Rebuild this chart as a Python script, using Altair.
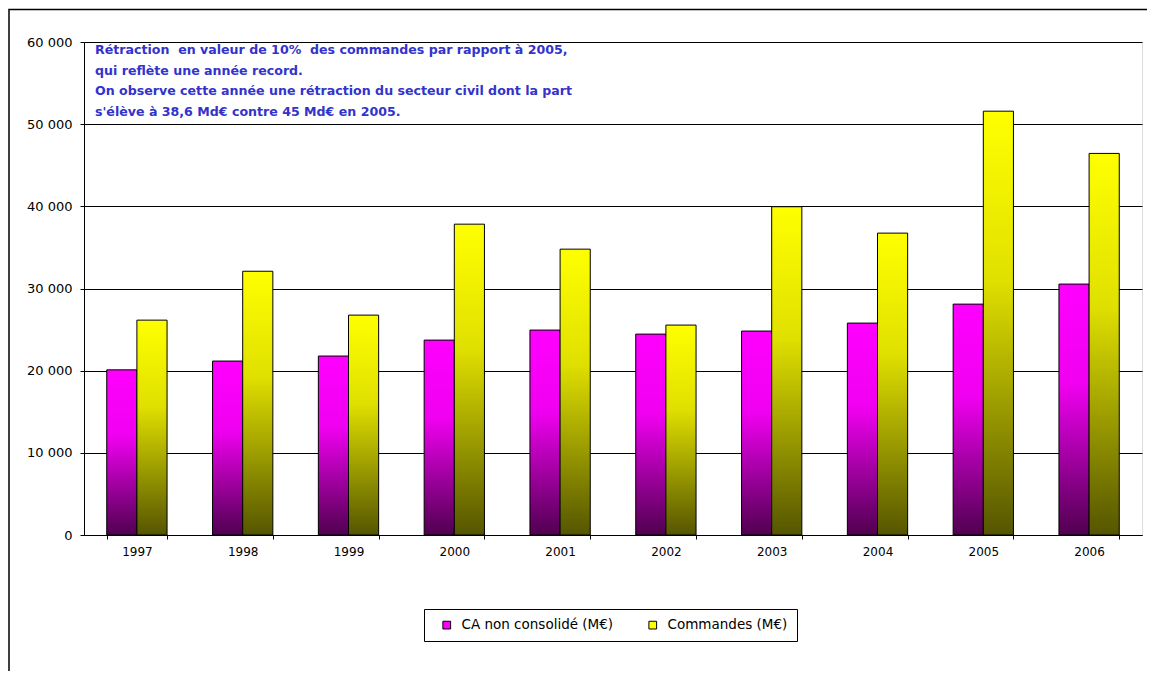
import altair as alt
import pandas as pd

years = ["1997", "1998", "1999", "2000", "2001", "2002", "2003", "2004", "2005", "2006"]
ca_values = [20100, 21170, 21780, 23720, 24940, 24450, 24820, 25790, 28100, 30540]
cmd_values = [26150, 32100, 26760, 37830, 34790, 25550, 39950, 36740, 51580, 46440]
series_names = ["CA non consolidé (M€)", "Commandes (M€)"]
y_ticks = [0, 10000, 20000, 30000, 40000, 50000, 60000]
note_lines = [
    "Rétraction \u00a0en valeur de 10% \u00a0des commandes par rapport à 2005,",
    "qui reflète une année record.",
    "On observe cette année une rétraction du secteur civil dont la part",
    "s'élève à 38,6 Md€ contre 45 Md€ en 2005.",
]

df = pd.DataFrame({
    "year": years * 2,
    "series": [series_names[0]] * len(years) + [series_names[1]] * len(years),
    "value": ca_values + cmd_values,
})

AXFONT = "DejaVu Sans"

grad_mag = {
    "gradient": "linear", "x1": 0, "y1": 0, "x2": 0, "y2": 1,
    "stops": [
        {"offset": 0, "color": "#FF00FF"},
        {"offset": 0.4, "color": "#F000F0"},
        {"offset": 1, "color": "#500050"},
    ],
}
grad_yel = {
    "gradient": "linear", "x1": 0, "y1": 0, "x2": 0, "y2": 1,
    "stops": [
        {"offset": 0, "color": "#FFFF00"},
        {"offset": 0.4, "color": "#E0E000"},
        {"offset": 1, "color": "#555500"},
    ],
}

x_enc = alt.X(
    "year:N",
    sort=years,
    scale=alt.Scale(paddingInner=0.43, paddingOuter=0.215),
    axis=alt.Axis(
        title=None, labelAngle=0, tickBand="extent", tickSize=4,
        tickColor="black", domainColor="black", labelFont=AXFONT,
        labelFontSize=12, labelColor="black", labelPadding=7, grid=False,
    ),
)
y_enc = alt.Y(
    "value:Q",
    scale=alt.Scale(domain=[0, 60000], nice=False),
    axis=alt.Axis(
        title=None, values=y_ticks, tickSize=4, tickColor="black",
        domainColor="black", labelFont=AXFONT, labelFontSize=13,
        labelColor="black", labelPadding=8, grid=True, gridColor="black",
        gridWidth=1,
        labelExpr="replace(format(datum.value, ',d'), ',', ' ')",
    ),
)
xoff = alt.XOffset("series:N", scale=alt.Scale(domain=series_names, paddingInner=0, paddingOuter=0))

base = alt.Chart(df)

bars_ca = base.mark_bar(color=grad_mag, stroke="black", strokeWidth=1).encode(
    x=x_enc, y=y_enc, xOffset=xoff
).transform_filter(alt.datum.series == series_names[0])

bars_cmd = base.mark_bar(color=grad_yel, stroke="black", strokeWidth=1).encode(
    x=x_enc, y=y_enc, xOffset=xoff
).transform_filter(alt.datum.series == series_names[1])

legend_layer = base.mark_square(opacity=0, size=1).encode(
    x=x_enc,
    y=y_enc,
    color=alt.Color(
        "series:N",
        scale=alt.Scale(domain=series_names, range=["#FF00FF", "#FFFF00"]),
        legend=alt.Legend(
            title=None, orient="none", legendX=340, legendY=567,
            direction="horizontal", strokeColor="black", fillColor="white",
            padding=9, symbolType="square", symbolSize=60, symbolOffset=7,
            symbolStrokeColor="black", symbolStrokeWidth=1, symbolOpacity=1,
            labelFont=AXFONT, labelFontSize=13.5, labelColor="black",
            columnPadding=25, labelLimit=300, labelOffset=8,
        ),
    ),
)

note = alt.Chart(pd.DataFrame({"k": [0]})).mark_text(
    text=note_lines, align="left", baseline="top", font="DejaVu Sans", fontSize=12.6,
    fontWeight="bold", color="#3333CC", lineHeight=20.5,
).encode(x=alt.value(11), y=alt.value(2))

frame = alt.Chart(pd.DataFrame({"k": [0]})).mark_rect(
    fill="transparent", stroke="black", strokeWidth=1.5, clip=False
).encode(x=alt.value(-75), x2=alt.value(1300), y=alt.value(-32.5), y2=alt.value(900))

chart = alt.layer(frame, bars_ca, bars_cmd, legend_layer, note).properties(
    width=1058, height=493,
    autosize=alt.AutoSizeParams(type="none"),
    padding={"left": 76, "top": 34, "right": 5, "bottom": 136},
).configure_view(strokeWidth=0).configure(background="white")

chart.save("out.html", embed_options={"renderer": "svg", "actions": False})
